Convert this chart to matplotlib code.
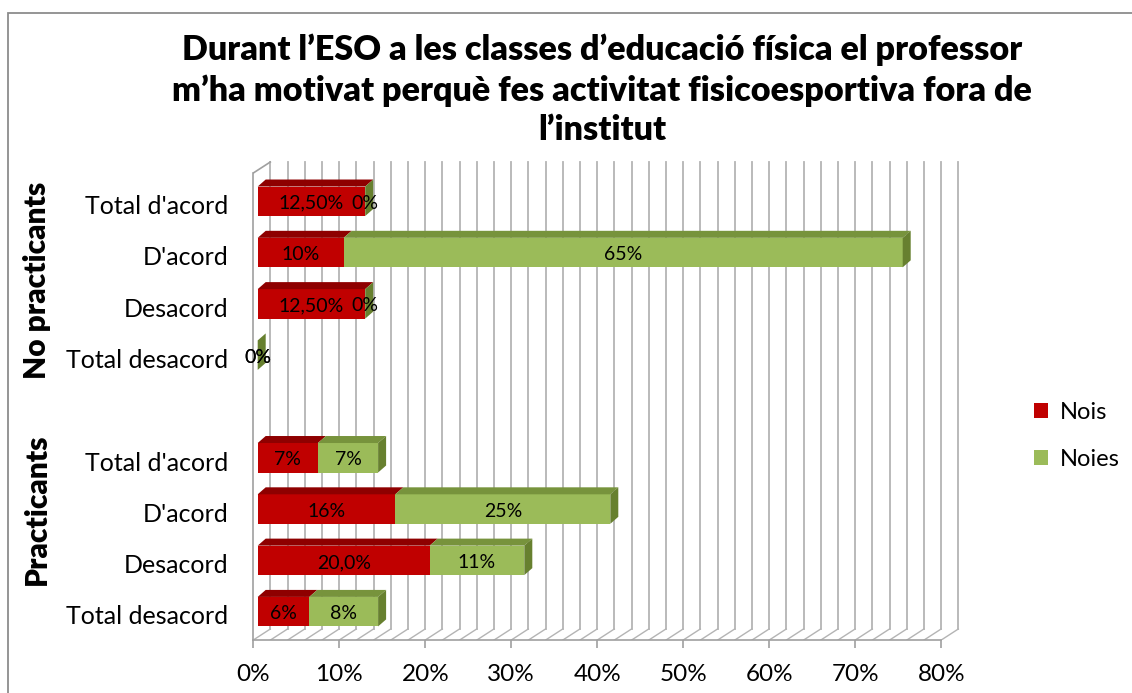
import matplotlib.pyplot as plt
from matplotlib.patches import Polygon, Rectangle

plt.rcParams['font.family'] = ['Lato', 'DejaVu Sans']

# dades
titol = ("Durant l’ESO a les classes d’educació física el professor\n"
         "m’ha motivat perquè fes activitat fisicoesportiva fora de\n"
         "l’institut")
grups = ['No practicants', 'Practicants']
categories = ["Total d'acord", "D'acord", "Desacord", "Total desacord"]
series = ['Nois', 'Noies']

nois_np = [12.5, 10, 12.5, 0]
noies_np = [0, 65, 0, 0]
nois_p = [7, 16, 20, 6]
noies_p = [7, 25, 11, 8]

etiq_nois_np = ['12,50%', '10%', '12,50%', '0%']
etiq_noies_np = ['0%', '65%', '0%', '0%']
etiq_nois_p = ['7%', '16%', '20,0%', '6%']
etiq_noies_p = ['7%', '25%', '11%', '8%']

x_ticks = [0, 10, 20, 30, 40, 50, 60, 70, 80]

# colors
vermell, vermell_dalt = '#C00000', '#8E0000'
verd, verd_dalt, verd_costat = '#9BBB59', '#77933C', '#67802F'
gris = '#B4B4B4'

W, H = 1132, 693
fig = plt.figure(figsize=(W / 100, H / 100), dpi=100)

# escales aproximades (px per unitat) per al fals 3D
PX, PY = 8.6, 51.3
x0_px, y0_px = 253.3, 615          # 0% / posicio 0
ax_top, ax_bot, ax_right = 160, 640, 975

ax = fig.add_axes([x0_px / W, 1 - ax_bot / H,
                   (ax_right - x0_px) / W, (ax_bot - ax_top) / H])
ax.set_xlim(0, (ax_right - x0_px) / PX)
y_min = -(ax_bot - y0_px) / PY
ax.set_ylim(y_min, (y0_px - ax_top) / PY)

# fons 3D: parets i terra
DXW, DYW = 17 / PX, 11 / PY
y_top_front = (y0_px - 173) / PY
y_top_back = y_top_front + DYW
for v in range(0, 81, 2):
    ax.plot([v + DXW, v + DXW], [y_min + DYW, y_top_back], color=gris, lw=1.3, zorder=1)
    ax.plot([v, v + DXW], [y_min, y_min + DYW], color=gris, lw=1.0, zorder=1)
ax.plot([0, DXW], [y_top_front, y_top_back], color='#A0A0A0', lw=1.2, zorder=1)

for s in ['top', 'right']:
    ax.spines[s].set_visible(False)
ax.spines['bottom'].set_bounds(0, 80)
ax.spines['left'].set_bounds(y_min, y_top_front)
for s in ['bottom', 'left']:
    ax.spines[s].set_color('#A0A0A0')
    ax.spines[s].set_linewidth(1.2)

# barres
pos_np = [8, 7, 6, 5]
pos_p = [3, 2, 1, 0]
BX = 4.4 / PX          # desplaçament de la cara frontal
BH = 29.5 / PY         # alçada de la barra
DBX, DBY = 8 / PX, 7 / PY
OFF = 0.065

def barres(pos, nois, noies, et_nois, et_noies):
    y = [p + OFF for p in pos]
    ax.barh(y, nois, left=BX, height=BH, color=vermell, zorder=3)
    ax.barh(y, noies, left=[BX + n for n in nois], height=BH, color=verd, zorder=3)
    for yi, n, g, en, eg in zip(y, nois, noies, et_nois, et_noies):
        yt = yi + BH / 2
        yb = yi - BH / 2
        for l, w, c in [(BX, n, vermell_dalt), (BX + n, g, verd_dalt)]:
            ax.add_patch(Polygon([(l, yt), (l + w, yt), (l + w + DBX, yt + DBY),
                                  (l + DBX, yt + DBY)], closed=True, fc=c, ec='none', zorder=3))
        xe = BX + n + g
        ax.add_patch(Polygon([(xe, yb), (xe, yt), (xe + DBX, yt + DBY), (xe + DBX, yb + DBY)],
                             closed=True, fc=verd_costat, ec='none', zorder=3))
        ax.text(BX + n / 2, yi - 0.04, en, ha='center', va='center', fontsize=14, zorder=4)
        ax.text(BX + n + g / 2, yi - 0.04, eg, ha='center', va='center', fontsize=14, zorder=4)

barres(pos_np, nois_np, noies_np, etiq_nois_np, etiq_noies_np)
barres(pos_p, nois_p, noies_p, etiq_nois_p, etiq_noies_p)

ax.set_yticks(pos_np + pos_p)
ax.set_yticklabels(categories + categories, fontsize=18)
ax.tick_params(axis='y', length=0, pad=18)
ax.set_xticks(x_ticks)
ax.set_xticklabels([f'{t}%' for t in x_ticks], fontsize=17.5)
ax.tick_params(axis='x', length=6, color='#A0A0A0', width=1.2, pad=11)

# etiquetes de grup
fig.text(37 / W, 1 - 280 / H, grups[0], rotation=90, ha='center', va='center',
         fontsize=21.5, fontweight='heavy')
fig.text(37 / W, 1 - 509 / H, grups[1], rotation=90, ha='center', va='center',
         fontsize=21.5, fontweight='heavy')

fig.text(602 / W, 1 - 90 / H, titol, ha='center', va='center', fontsize=24.6,
         fontweight='heavy', linespacing=1.3)

handles = [Rectangle((0, 0), 1, 1, fc=vermell), Rectangle((0, 0), 1, 1, fc=verd)]
fig.legend(handles, series, loc='center left', bbox_to_anchor=(1013 / W, 1 - 436 / H),
           frameon=False, fontsize=17, handlelength=0.6, handleheight=0.6,
           labelspacing=1.1, handletextpad=0.5)

fig.add_artist(Rectangle((8.3 / W, -0.1), 1.2, 1 - 13 / H + 0.1, transform=fig.transFigure,
                         fill=False, ec='#8C8C8C', lw=1.3))

plt.savefig('out.png', dpi=100)
plt.close()
